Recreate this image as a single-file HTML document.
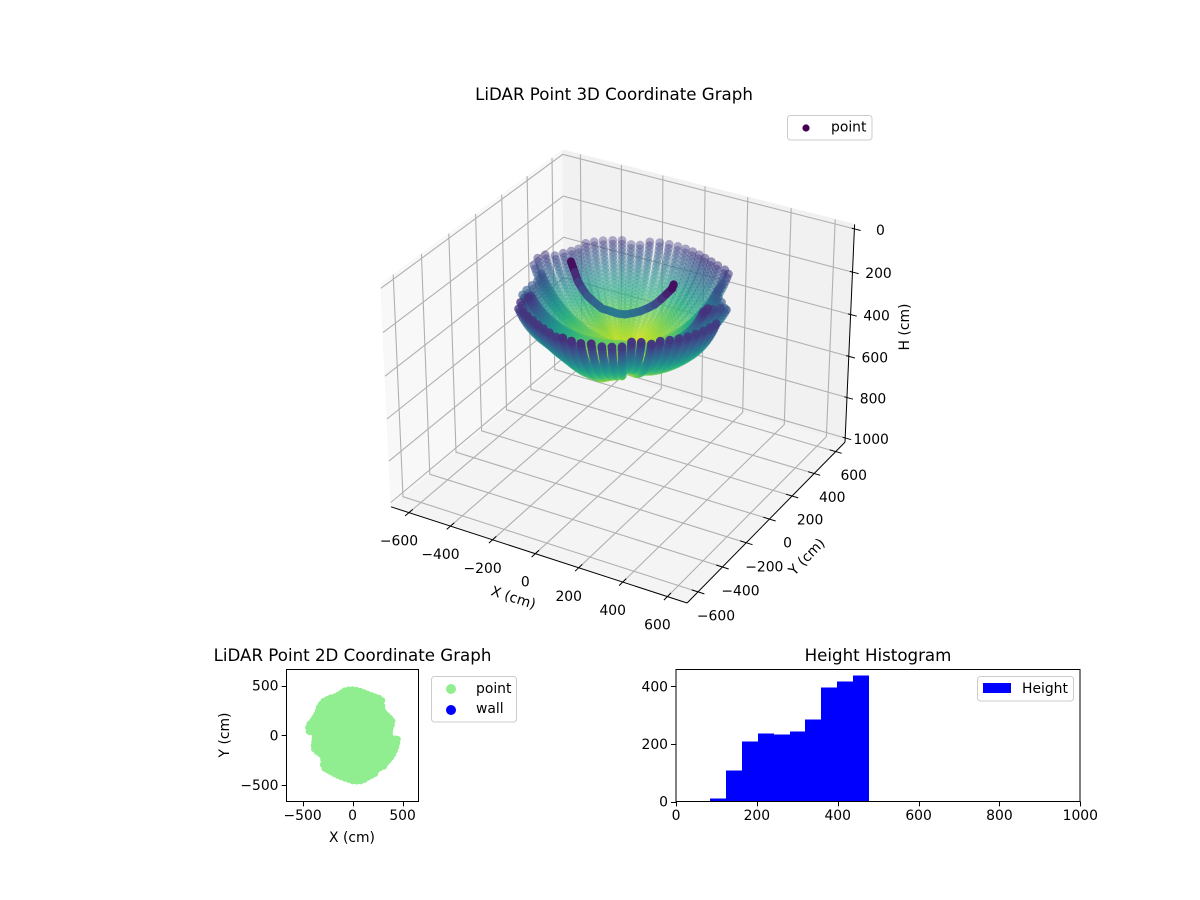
<!DOCTYPE html>
<html lang="en">
<head>
<meta charset="utf-8">
<title>LiDAR Point Graphs</title>
<style>
html,body{margin:0;padding:0;background:#fff;}
svg{display:block;font-family:"DejaVu Sans","Liberation Sans",sans-serif;font-size:13.9px;fill:#000;}
.title{font-size:16.67px;text-anchor:middle;}
.mid{text-anchor:middle;}
.end{text-anchor:end;}
</style>
</head>
<body>
<svg id="chart" width="1200" height="900" viewBox="0 0 1200 900" xmlns="http://www.w3.org/2000/svg">
  <rect x="0" y="0" width="1200" height="900" fill="#fff"/>

  <g id="axes3d">
    <text class="title" x="614" y="100">LiDAR Point 3D Coordinate Graph</text>
    <g id="panes"></g>
    <g id="grid3d"></g>
    <g id="axis3d"></g>
    <g id="ticks3d"></g>
    <g id="points3d"></g>
    <g id="arc3d"></g>
    <text class="mid" transform="translate(512,602) rotate(18)">X (cm)</text>
    <text class="mid" transform="translate(810,560) rotate(-46)">Y (cm)</text>
    <text class="mid" transform="translate(909,327) rotate(-90)">H (cm)</text>
    <g>
      <rect x="787.5" y="115.5" width="84.5" height="24.5" rx="3" fill="#fff" stroke="#ccc"/>
      <circle cx="806" cy="128" r="3.6" fill="#440154"/>
      <text x="831" y="131.5">point</text>
    </g>
  </g>

  <g id="axes2d">
    <text class="title" x="352.5" y="661">LiDAR Point 2D Coordinate Graph</text>
    <g id="points2d"></g>
    <rect x="286.5" y="669.5" width="132" height="132" fill="none" stroke="#000" stroke-width="1"/>
    <g id="ticks2d"></g>
    <text class="mid" x="352" y="842">X (cm)</text>
    <text class="mid" transform="translate(229,735) rotate(-90)">Y (cm)</text>
    <g>
      <rect x="431.5" y="676.5" width="85" height="45.5" rx="3" fill="#fff" stroke="#ccc"/>
      <circle cx="451" cy="689" r="5" fill="#90ee90"/>
      <text x="476" y="693">point</text>
      <circle cx="451" cy="710" r="5" fill="#0000ff"/>
      <text x="476" y="713">wall</text>
    </g>
  </g>

  <g id="axesHist">
    <text class="title" x="878" y="661">Height Histogram</text>
    <g id="bars" shape-rendering="crispEdges"></g>
    <rect x="676" y="669.5" width="404" height="132" fill="none" stroke="#000" stroke-width="1"/>
    <g id="ticksHist"></g>
    <g>
      <rect x="977.5" y="676.5" width="96" height="24.5" rx="3" fill="#fff" stroke="#ccc"/>
      <rect x="983" y="683" width="28" height="10" fill="#0000ff"/>
      <text x="1022" y="693">Height</text>
    </g>
  </g>
</svg>

<script>
// ---- data ----
const rayAzimuthDeg = [0,5,10,15,20,25,30,35,40,45,50,55,60,65,70,75,80,85,90,95,100,105,110,115,120,125,130,135,140,145,150,155,160,165,170,175,180,185,190,195,200,205,210,215,220,225,230,235,240,245,250,255,260,265,270,275,280,285,290,295,300,305,310,315,320,325,330,335,340,345,350,355];
const rimRadiusCm = [372,374,387,407,427,417,402,392,393,422,460,462,450,444,442,447,452,457,462,462,457,442,434,432,437,442,450,445,437,427,420,423,432,445,450,442,382,384,390,402,412,397,377,366,382,417,438,432,430,430,434,438,444,452,460,464,467,460,454,452,450,425,430,445,437,442,447,450,452,454,455,456];
const rimHeightCm = [140,140,150,165,185,195,195,190,180,165,150,150,150,150,150,150,150,150,150,150,150,150,150,150,150,150,150,150,150,150,150,150,150,150,150,155,165,180,190,195,195,190,170,150,140,140,140,140,140,140,140,140,140,140,140,140,140,140,140,140,140,140,140,140,140,140,140,140,140,140,140,140];
const polarRowsDeg = [1,3,5,7,9,11,13,15,17,19,21,23,25,27,29,31,33,35,37,39,41,43,45,47,49,51,53,55,57,59,61,63,65,67,69,71,73,75,77,79,81,83];

const arcX = [-243,-215,-191,-163,-135,-102,-68,-35,-13,18,48,78,107,133,160,180,199,205];
const arcY = [10,-8,-22,-34,-43,-43,-42,-28,-16,-7,2,13,25,30,34,43,53,55];
const arcH = [85,118,150,170,190,210,230,240,250,250,240,228,210,190,160,135,110,90];

const histEdges = [84,124,163,203,242,281,319,358,398,438,477];
const histCounts = [10,108,208,236,232,243,285,396,416,437];

const xTicks3d = [-600,-400,-200,0,200,400,600];
const yTicks3d = [-600,-400,-200,0,200,400,600];
const hTicks3d = [0,200,400,600,800,1000];
const ticks2dX = [-500,0,500];
const ticks2dY = [-500,0,500];
const histTicksX = [0,200,400,600,800,1000];
const histTicksY = [0,200,400];

// ---- helpers ----
const NS = 'http://www.w3.org/2000/svg';
function make(parent, tag, attrs, text) {
  const el = document.createElementNS(NS, tag);
  for (const k in attrs) el.setAttribute(k, attrs[k]);
  if (text !== undefined) el.textContent = text;
  parent.appendChild(el);
  return el;
}
function fmt(v) { return v < 0 ? '\u2212' + Math.abs(v) : String(v); }

const viridisStops = [[68,1,84],[71,44,122],[59,81,139],[44,113,142],[33,144,141],[39,173,129],[92,200,99],[170,220,50],[253,231,37]];
function viridis(t) {
  t = Math.max(0, Math.min(1, t)) * (viridisStops.length - 1);
  const i = Math.min(Math.floor(t), viridisStops.length - 2), f = t - i;
  const a = viridisStops[i], b = viridisStops[i + 1];
  return 'rgb(' + a.map((c, k) => Math.round(c + (b[k] - c) * f)).join(',') + ')';
}

// ---- 3D projection (mplot3d style, elev 30, azim -60) ----
const xLim = [-687.5, 687.5], yLim = [-687.5, 687.5], hLim = [-20.8, 1020.8];
const box = [1.143, 1.143, 0.857];
const eyeDir = [0.433, -0.75, 0.5], camU = [0.866, 0.5, 0], camV = [-0.25, 0.433, 0.866];
const dot = (a, b) => a[0]*b[0] + a[1]*b[1] + a[2]*b[2];
function cam(x, y, h) {
  const p = [
    (x - xLim[0]) / (xLim[1] - xLim[0]) * box[0] - box[0] / 2 - 10 * eyeDir[0],
    (y - yLim[0]) / (yLim[1] - yLim[0]) * box[1] - box[1] / 2 - 10 * eyeDir[1],
    (hLim[1] - h) / (hLim[1] - hLim[0]) * box[2] - box[2] / 2 - 10 * eyeDir[2]
  ];
  const d = -dot(eyeDir, p);
  return { px: dot(camU, p) / d, py: dot(camV, p) / d, d: d };
}
const cA = cam(xLim[0], yLim[0], hLim[1]), cC = cam(xLim[1], yLim[1], hLim[1]);
const cD = cam(xLim[0], yLim[1], hLim[0]), cB = cam(xLim[1], yLim[0], hLim[1]);
const sX = (845 - 391) / (cC.px - cA.px), oX = 391 - sX * cA.px;
const sY = (603 - 150) / (cB.py - cD.py), oY = 150 - sY * cD.py;
function project(x, y, h) {
  const c = cam(x, y, h);
  return { x: oX + sX * c.px, y: oY + sY * c.py, d: c.d };
}

// panes
const panesG = document.getElementById('panes');
function poly(corners, fill, name) {
  const pts = corners.map(c => { const p = project(c[0], c[1], c[2]); return p.x.toFixed(1) + ',' + p.y.toFixed(1); }).join(' ');
  const el = make(panesG, 'polygon', { points: pts, fill: fill, stroke: fill, 'stroke-width': 1 });
  
  
}
poly([[xLim[0],yLim[0],hLim[0]],[xLim[0],yLim[1],hLim[0]],[xLim[0],yLim[1],hLim[1]],[xLim[0],yLim[0],hLim[1]]], '#f8f8f8', 'left-wall-pane');
poly([[xLim[0],yLim[1],hLim[0]],[xLim[1],yLim[1],hLim[0]],[xLim[1],yLim[1],hLim[1]],[xLim[0],yLim[1],hLim[1]]], '#f1f1f1', 'back-wall-pane');
poly([[xLim[0],yLim[0],hLim[1]],[xLim[1],yLim[0],hLim[1]],[xLim[1],yLim[1],hLim[1]],[xLim[0],yLim[1],hLim[1]]], '#f4f4f4', 'floor-pane');

// gridlines
const gridG = document.getElementById('grid3d');
function path3d(parent, a, b, c, stroke, width, name) {
  const pts = [a, b, c].filter(Boolean).map(q => { const p = project(q[0], q[1], q[2]); return p.x.toFixed(1) + ',' + p.y.toFixed(1); }).join(' ');
  const el = make(parent, 'polyline', { points: pts, fill: 'none', stroke: stroke, 'stroke-width': width });
  
  
}
xTicks3d.forEach(v => path3d(gridG, [v,yLim[0],hLim[1]], [v,yLim[1],hLim[1]], [v,yLim[1],hLim[0]], '#b0b0b0', 1.1, 'x-gridline'));
yTicks3d.forEach(v => path3d(gridG, [xLim[1],v,hLim[1]], [xLim[0],v,hLim[1]], [xLim[0],v,hLim[0]], '#b0b0b0', 1.1, 'y-gridline'));
hTicks3d.forEach(v => path3d(gridG, [xLim[0],yLim[0],v], [xLim[0],yLim[1],v], [xLim[1],yLim[1],v], '#b0b0b0', 1.1, 'height-gridline'));

// axis lines
const axisG = document.getElementById('axis3d');
path3d(axisG, [xLim[0],yLim[0],hLim[1]], [xLim[1],yLim[0],hLim[1]], null, '#000', 1, 'x-axis-line');
path3d(axisG, [xLim[1],yLim[0],hLim[1]], [xLim[1],yLim[1],hLim[1]], null, '#000', 1, 'y-axis-line');
path3d(axisG, [xLim[1],yLim[1],hLim[1]], [xLim[1],yLim[1],hLim[0]], null, '#000', 1, 'height-axis-line');

// ticks and labels
const ticksG = document.getElementById('ticks3d');
function label3d(pos, dx, dy, value, name) {
  const el = make(ticksG, 'text', { x: (pos.x + dx).toFixed(1), y: (pos.y + dy).toFixed(1), 'text-anchor': 'middle' }, fmt(value));
  
  
}
xTicks3d.forEach(v => {
  path3d(axisG, [v,yLim[0]-28,hLim[1]], [v,yLim[0]+28,hLim[1]], null, '#000', 1, 'x-tick');
  label3d(project(v, yLim[0], hLim[1]), -10, 33, v, 'x-tick-label');
});
yTicks3d.forEach(v => {
  path3d(axisG, [xLim[1]-28,v,hLim[1]], [xLim[1]+28,v,hLim[1]], null, '#000', 1, 'y-tick');
  label3d(project(xLim[1], v, hLim[1]), 18, 28.5, v, 'y-tick-label');
});
hTicks3d.forEach(v => {
  path3d(axisG, [xLim[1]-12,yLim[1],v], [xLim[1]+28,yLim[1],v], null, '#000', 1, 'height-tick');
  label3d(project(xLim[1], yLim[1], v), 26, 6, v, 'height-tick-label');
});

// point cloud from rays
const cloud = [];
rayAzimuthDeg.forEach((az, i) => {
  const rim = rimRadiusCm[i], rimH = rimHeightCm[i];
  const range = Math.hypot(rim, rimH);
  const maxPolar = Math.atan2(rim, rimH) * 180 / Math.PI;
  polarRowsDeg.forEach(ph => {
    if (ph > maxPolar) return;
    const p = ph * Math.PI / 180, a = az * Math.PI / 180;
    cloud.push({ x: range * Math.sin(p) * Math.cos(a), y: range * Math.sin(p) * Math.sin(a), h: range * Math.cos(p) });
  });
});
const hMin = Math.min(...cloud.map(p => p.h), ...arcH), hMax = Math.max(...cloud.map(p => p.h));
const colorOf = h => viridis((h - hMin) / (hMax - hMin));

const proj = cloud.map(p => Object.assign(project(p.x, p.y, p.h), { h: p.h }));
const dMin = Math.min(...proj.map(p => p.d)), dMax = Math.max(...proj.map(p => p.d));
proj.sort((a, b) => b.d - a.d);
const pts3d = document.getElementById('points3d');
proj.forEach(p => {
  const alpha = 1 - 0.62 * (p.d - dMin) / (dMax - dMin);
  const el = make(pts3d, 'circle', { cx: p.x.toFixed(1), cy: p.y.toFixed(1), r: 4.4, fill: colorOf(p.h), 'fill-opacity': alpha.toFixed(2) });
  
  
});

// dark arc
const arcG = document.getElementById('arc3d');
for (let i = 0; i + 1 < arcX.length; i++) {
  const a = project(arcX[i], arcY[i], arcH[i]), b = project(arcX[i + 1], arcY[i + 1], arcH[i + 1]);
  const el = make(arcG, 'line', { x1: a.x.toFixed(1), y1: a.y.toFixed(1), x2: b.x.toFixed(1), y2: b.y.toFixed(1), stroke: colorOf((arcH[i] + arcH[i + 1]) / 2), 'stroke-width': 8, 'stroke-linecap': 'round' });
  
  
}

// ---- 2D scatter ----
const sx2 = v => 352.6 + v * 0.1, sy2 = v => 735.3 - v * 0.0995;
const pts2d = document.getElementById('points2d');
cloud.forEach(p => {
  const el = make(pts2d, 'circle', { cx: sx2(p.x).toFixed(1), cy: sy2(p.y).toFixed(1), r: 3.3, fill: '#90ee90' });
  
  
});
const t2 = document.getElementById('ticks2d');
ticks2dX.forEach(v => {
  const x = Math.round(sx2(v)) + 0.5;
  const tick = make(t2, 'line', { x1: x, x2: x, y1: 801.5, y2: 806.4, stroke: '#000' });
  
  
  const lab = make(t2, 'text', { x: sx2(v), y: 820, 'text-anchor': 'middle' }, fmt(v));
  
  
});
ticks2dY.forEach(v => {
  const y = Math.round(sy2(v)) + 0.5;
  const tick = make(t2, 'line', { x1: 281.6, x2: 286.5, y1: y, y2: y, stroke: '#000' });
  
  
  const lab = make(t2, 'text', { x: 278.5, y: sy2(v) + 5, 'text-anchor': 'end' }, fmt(v));
  
  
});

// ---- histogram ----
const hx = v => 676 + v * 0.4043, hy = v => 801.5 - v * 0.288;
const barsG = document.getElementById('bars');
histCounts.forEach((c, i) => {
  const x0 = Math.round(hx(histEdges[i])), x1 = Math.round(hx(histEdges[i + 1]));
  const el = make(barsG, 'rect', { x: x0, y: hy(c).toFixed(1), width: x1 - x0, height: (801.5 - hy(c)).toFixed(1), fill: '#0000ff' });
  
  
});
const tH = document.getElementById('ticksHist');
histTicksX.forEach(v => {
  const x = Math.round(hx(v)) + 0.5;
  const tick = make(tH, 'line', { x1: x, x2: x, y1: 801.5, y2: 806.4, stroke: '#000' });
  
  
  const lab = make(tH, 'text', { x: hx(v), y: 820, 'text-anchor': 'middle' }, fmt(v));
  
  
});
histTicksY.forEach(v => {
  const y = Math.round(hy(v)) + 0.5;
  const tick = make(tH, 'line', { x1: 671, x2: 676, y1: y, y2: y, stroke: '#000' });
  
  
  const lab = make(tH, 'text', { x: 668, y: hy(v) + 5, 'text-anchor': 'end' }, fmt(v));
  
  
});
</script>
</body>
</html>
